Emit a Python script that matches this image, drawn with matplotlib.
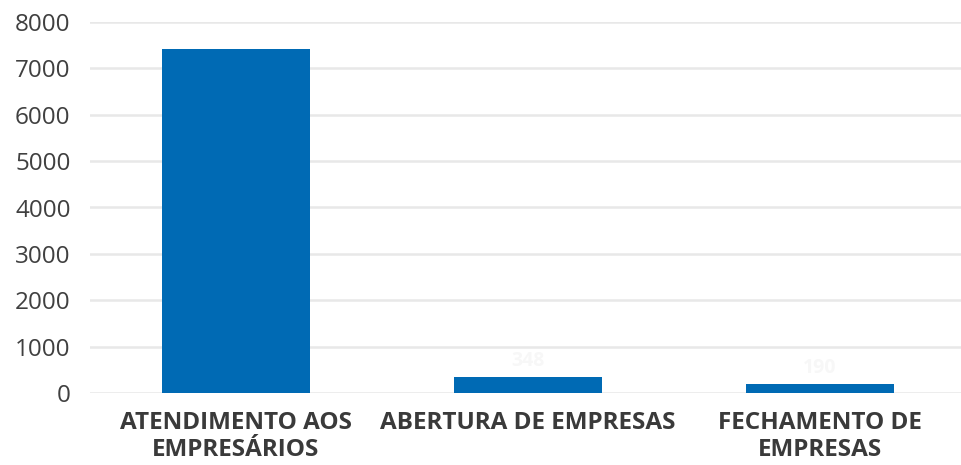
import matplotlib.pyplot as plt

# Atendimentos e movimentações de empresas
categorias = ["ATENDIMENTO AOS\nEMPRESÁRIOS", "ABERTURA DE EMPRESAS", "FECHAMENTO DE\nEMPRESAS"]
valores = [7418, 348, 190]
yticks = [0, 1000, 2000, 3000, 4000, 5000, 6000, 7000, 8000]

plt.rcParams['font.family'] = ['Open Sans', 'DejaVu Sans']

fig = plt.figure(figsize=(9.62, 4.65), dpi=100)
ax = fig.add_axes([90 / 962, 1 - 393 / 465, 876 / 962, 371 / 465])

x = range(len(categorias))
bars = ax.bar(x, valores, width=0.505, color="#006ab4", zorder=3)

# rótulos de valor quase invisíveis acima das barras menores
for b, v in zip(bars[1:], valores[1:]):
    ax.text(b.get_x() + b.get_width() / 2, v + 130, str(v), ha="center", va="bottom",
            fontsize=14, fontweight="bold", color="#f7f7f7", zorder=2)

ax.set_xlim(-0.5, len(categorias) - 0.5)
ax.set_ylim(0, 8000)
ax.set_yticks(yticks)
ax.set_yticklabels([str(t) for t in yticks], fontsize=17.5, color="#404040")
ax.set_xticks(list(x))
ax.set_xticklabels(categorias, fontsize=17.5, fontweight="bold", color="#3a3a3a", linespacing=1.15)
ax.tick_params(axis="both", length=0)
ax.tick_params(axis="x", pad=13)
ax.tick_params(axis="y", pad=14)
ax.grid(axis="y", color="#e8e8e8", linewidth=1.8, zorder=0)
for s in ax.spines.values():
    s.set_visible(False)

fig.savefig("out.png", dpi=100)
